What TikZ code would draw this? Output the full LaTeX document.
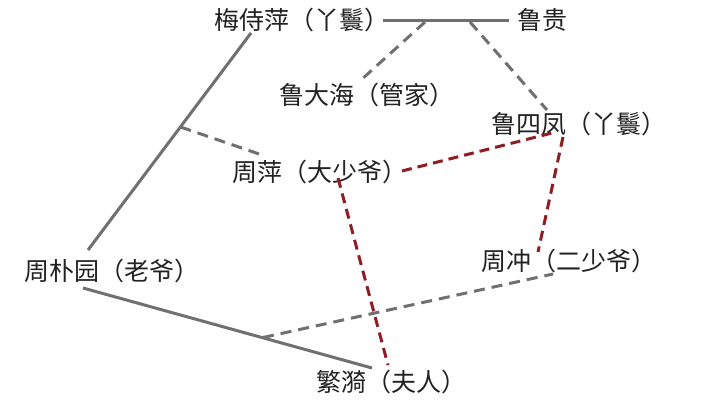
\documentclass[tikz,border=0pt]{standalone}
\usepackage{fontspec}
\newfontfamily\cjk{Noto Sans CJK SC}
\definecolor{lgray}{HTML}{707070}
\definecolor{lred}{HTML}{8E1E24}
\definecolor{txt}{HTML}{222222}
\tikzset{
  person/.style={anchor=west, inner sep=0pt, font=\cjk\fontsize{25}{27}\selectfont, text=txt},
  kin/.style={draw=lgray, line width=3pt},
  link/.style={draw=lgray, line width=3pt, dash pattern=on 11pt off 7pt},
  love/.style={draw=lred, line width=3pt, dash pattern=on 10pt off 6pt}
}
\begin{document}
\begin{tikzpicture}[x=1pt,y=-1pt]
\useasboundingbox[fill=white] (0,0) rectangle (720,406);
\node[person] (mei) at (214,20) {梅侍萍（丫鬟）};
\node[person] (lugui) at (517,20) {鲁贵};
\node[person] (dahai) at (279,95) {鲁大海（管家）};
\node[person] (sifeng) at (491,124) {鲁四凤（丫鬟）};
\node[person] (ping) at (232,172) {周萍（大少爷）};
\node[person] (puyuan) at (24,271) {周朴园（老爷）};
\node[person] (chong) at (481,261) {周冲（二少爷）};
\node[person] (fanyi) at (316,382) {繁漪（夫人）};

\coordinate (meiE) at (383,21);
\coordinate (luguiW) at (509,21);
\coordinate (m1) at (425,22);
\coordinate (m2) at (470,22);
\coordinate (dahaiT) at (361,80);
\coordinate (sifengT) at (547,110);
\coordinate (meiB) at (251,33);
\coordinate (puyuanT) at (88,250);
\coordinate (m3) at (180.5,127);
\coordinate (pingL) at (262,155);
\coordinate (puyuanB) at (83,288);
\coordinate (fanyiT) at (372,368);
\coordinate (m4) at (263,337.5);
\coordinate (chongB) at (553,274);
\coordinate (pingR) at (402,171);
\coordinate (sifengL) at (552,133);
\coordinate (pingB) at (338,178);
\coordinate (fanyiR) at (388,365);
\coordinate (sifengB) at (563,137);
\coordinate (chongT) at (538,252);

\draw[kin] (meiE) -- (luguiW);
\draw[link] (m1) -- (dahaiT);
\draw[link] (m2) -- (sifengT);
\draw[kin] (meiB) -- (puyuanT);
\draw[link] (m3) -- (pingL);
\draw[kin] (puyuanB) -- (fanyiT);
\draw[link] (m4) -- (chongB);
\draw[love] (pingR) -- (sifengL);
\draw[love] (pingB) -- (fanyiR);
\draw[love] (sifengB) -- (chongT);
\end{tikzpicture}
\end{document}
